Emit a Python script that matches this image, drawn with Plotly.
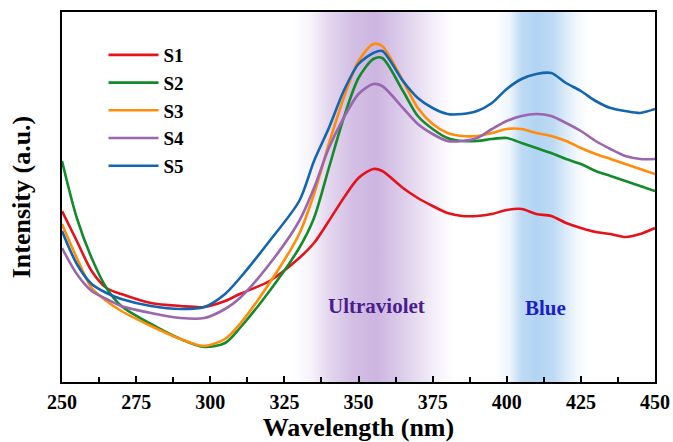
import numpy as np
import plotly.graph_objects as go

# ---- data (y in arbitrary units) ----
wl = [250, 255, 260, 265, 270, 280, 290, 298, 305, 310, 320, 330, 335, 340, 345, 350,
      355, 358, 365, 370, 375, 380, 385, 390, 395, 400, 405, 410, 415, 420, 425, 430,
      435, 440, 445, 450]

s1 = [171, 141, 111, 94, 88, 79, 76, 75, 81, 88, 101, 124, 139, 161, 184, 204,
      213, 211, 194, 184, 176, 169, 166, 166, 168, 172, 173, 168, 166, 159, 154, 150,
      148, 145, 148, 154]
s2 = [221, 164, 124, 94, 76, 58, 43, 35, 39, 54, 91, 134, 164, 214, 264, 304,
      323, 324, 291, 266, 253, 244, 241, 241, 243, 244, 239, 234, 229, 223, 218, 211,
      206, 201, 196, 191]
s3 = [158, 124, 94, 81, 71, 56, 43, 36, 43, 58, 99, 148, 188, 238, 284, 321,
      338, 336, 301, 274, 258, 249, 246, 246, 249, 253, 253, 249, 246, 241, 234, 228,
      223, 218, 213, 208]
s4 = [134, 108, 91, 83, 76, 69, 64, 64, 73, 84, 118, 161, 194, 234, 264, 288,
      298, 296, 274, 258, 248, 241, 241, 244, 253, 261, 266, 268, 266, 259, 251, 241,
      233, 226, 223, 223]
s5 = [151, 118, 98, 89, 83, 76, 73, 75, 88, 104, 141, 181, 221, 254, 291, 318,
      329, 331, 301, 284, 274, 268, 268, 271, 279, 293, 303, 308, 309, 299, 291, 281,
      274, 271, 269, 273]

names = ["S1", "S2", "S3", "S4", "S5"]
series = [s1, s2, s3, s4, s5]
colors = ["#E3121B", "#138A2C", "#FF8C0A", "#9A66AE", "#1265AE"]

tick_vals = [250, 275, 300, 325, 350, 375, 400, 425, 450]

FONT = "Times New Roman, Liberation Serif, serif"
YMAX = 370

fig = go.Figure()

# ---- gradient bands (decoration) ----
def add_band(x0, x1, stops, rgb):
    cs = [[p, f"rgba({rgb[0]},{rgb[1]},{rgb[2]},{a})"] for p, a in stops]
    fig.add_trace(go.Scatter(x=[x0, x1, x1, x0, x0], y=[0, 0, YMAX, YMAX, 0],
                             fill="toself", mode="none", showlegend=False, hoverinfo="skip",
                             fillgradient=dict(type="horizontal", colorscale=cs)))

add_band(328, 382, [[0, 0.0], [0.11, 0.15], [0.22, 0.5], [0.37, 0.8], [0.52, 0.92],
                    [0.63, 0.72], [0.78, 0.42], [0.89, 0.18], [1, 0.0]], (200, 175, 222))
add_band(396, 428, [[0, 0.0], [0.16, 0.25], [0.28, 0.85], [0.44, 1.0], [0.62, 0.85],
                    [0.75, 0.45], [0.88, 0.15], [1, 0.0]], (178, 212, 242))

for n, y, c in zip(names, series, colors):
    fig.add_trace(go.Scatter(x=wl, y=y, name=f"<b>{n}</b>", mode="lines",
                             line=dict(color=c, width=2.6, shape="spline", smoothing=0.8)))

fig.add_annotation(x=356, y=76, text="<b>Ultraviolet</b>", showarrow=False,
                   font=dict(family=FONT, size=21, color="#4B1C8C"))
fig.add_annotation(x=413, y=74, text="<b>Blue</b>", showarrow=False,
                   font=dict(family=FONT, size=21, color="#1A1FC8"))

fig.update_layout(
    width=673, height=442,
    margin=dict(l=62, r=18, t=12, b=60),
    paper_bgcolor="white", plot_bgcolor="white",
    showlegend=True,
    legend=dict(x=0.07, y=0.935, xanchor="left", yanchor="top",
                font=dict(family=FONT, size=19, color="black"),
                bgcolor="rgba(0,0,0,0)", tracegroupgap=0, itemwidth=50),
    font=dict(family=FONT, color="black"),
)
fig.update_xaxes(range=[250, 450], tickvals=tick_vals,
                 ticktext=[f"<b>{v}</b>" for v in tick_vals],
                 tickfont=dict(family=FONT, size=20, color="black"),
                 ticks="inside", ticklen=6, tickwidth=1.5, tickcolor="black",
                 ticklabelstandoff=1, automargin=False,
                 minor=dict(dtick=12.5, tick0=250, ticks="inside", ticklen=5, tickwidth=1.5, tickcolor="black"),
                 showline=True, linecolor="black", linewidth=1.8, mirror=True,
                 showgrid=False, zeroline=False,
                 title=dict(text="<b>Wavelength (nm)</b>", font=dict(family=FONT, size=26), standoff=10))
fig.update_yaxes(range=[0, YMAX], showticklabels=False, ticks="", automargin=False,
                 showline=True, linecolor="black", linewidth=1.8, mirror=True,
                 showgrid=False, zeroline=False,
                 title=dict(text="<b>Intensity (a.u.)</b>", font=dict(family=FONT, size=26), standoff=22))

fig.write_html("out.html")
